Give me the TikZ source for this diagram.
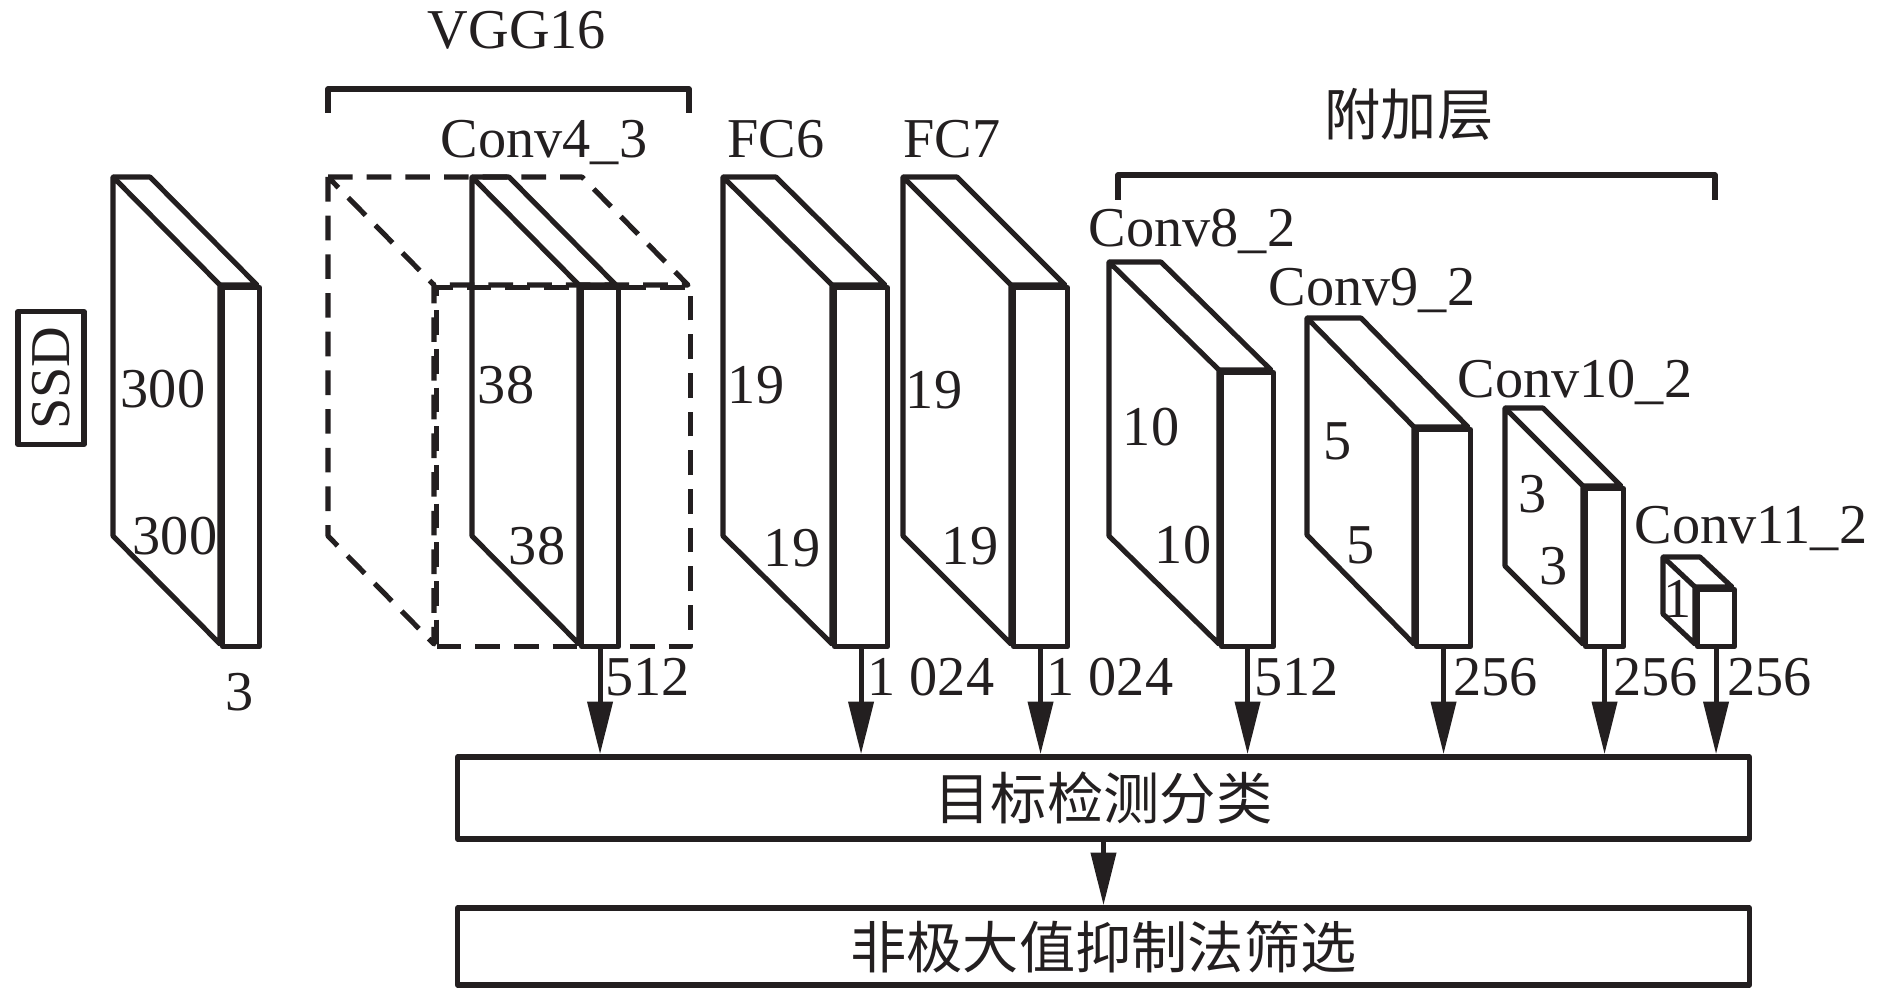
\documentclass[tikz,border=0pt]{standalone}
\usepackage{fontspec}
\setmainfont{Liberation Serif}
\newfontfamily\cjk{Noto Sans CJK SC}
\usetikzlibrary{arrows.meta}
\definecolor{ink}{RGB}{35,31,32}
\newcommand\myslab[8]{%
  \draw[#8] (#2,#3) -- (#2,{#3+#7}) -- ({#2+#5},{#3+#6+#7}) -- ({#2+#5},{#3+#6}) -- cycle;
  \draw[#8] (#2,#3) -- ({#2+#4},#3) -- ({#2+#4+#5},{#3+#6}) -- ({#2+#5},{#3+#6});
  \node[draw,#8,anchor=north west,minimum width={#4*0.01cm},minimum height={#7*0.01cm}] (#1) at ({#2+#5},{#3+#6}) {};
}
\begin{document}
\begin{tikzpicture}[x=0.01cm,y=-0.01cm, line width=1.45pt, line join=round, draw=ink,
  every node/.style={font=\fontsize{16pt}{19pt}\selectfont, inner sep=0pt, text=ink},
  num/.style={anchor=west},
  ttl/.style={anchor=base},
  arr/.style={-{Triangle[length=15pt,width=7pt]}},
  dsh/.style={dash pattern=on 7pt off 4pt},
  bigbox/.style={draw, minimum width=12.91cm, font=\cjk\fontsize{16pt}{19pt}\selectfont}]
\useasboundingbox (0,0) rectangle (1890,988);

% titles and brackets
\node (vgg) at (517,30) {VGG16};
\draw (328,113) -- (328,89) -- (689,89) -- (689,113);
\node[font=\cjk\fontsize{16pt}{19pt}\selectfont] (fj) at (1409,114) {附加层};
\draw (1118,200) -- (1118,175) -- (1715,175) -- (1715,200);

\node[draw, rotate=90, minimum width=1.33cm, minimum height=0.66cm] (ssd) at (51,378) {SSD};

% slabs
\myslab{s1}{113}{177}{37}{107}{108}{359}{}
\myslab{sd}{328}{177}{254}{106}{108}{359}{dsh}
\myslab{s2}{472}{177}{37}{107}{108}{359}{}
\myslab{s3}{723}{177}{53}{109}{108}{359}{}
\myslab{s4}{903}{177}{54}{108}{108}{359}{}
\myslab{s5}{1109}{262}{52}{110}{108}{274}{}
\myslab{s6}{1307}{318}{54}{107}{109}{217}{}
\myslab{s7}{1505}{408}{38}{78}{78}{158}{}
\myslab{s8}{1663}{557}{37}{32}{30}{57}{}

% layer names
\node[ttl] (n2) at (544,158) {Conv4\_3};
\node[ttl] (n3) at (776,158) {FC6};
\node[ttl] (n4) at (952,158) {FC7};
\node[ttl] (n5) at (1192,247) {Conv8\_2};
\node[ttl] (n6) at (1372,305) {Conv9\_2};
\node[ttl] (n7) at (1575,398) {Conv10\_2};
\node[ttl] (n8) at (1751,544) {Conv11\_2};

% sizes
\node (a1) at (163,389) {300};
\node (b1) at (175,536) {300};
\node (c1) at (240,692) {3};
\node (a2) at (506,385) {38};
\node (b2) at (537,546) {38};
\node (a3) at (756,385) {19};
\node (b3) at (792,548) {19};
\node (a4) at (934,390) {19};
\node (b4) at (970,546) {19};
\node (a5) at (1151,427) {10};
\node (b5) at (1183,545) {10};
\node (a6) at (1338,441) {5};
\node (b6) at (1361,545) {5};
\node (a7) at (1533,494) {3};
\node (b7) at (1554,566) {3};
\node (a8) at (1678,599) {1};

% boxes
\node[bigbox, minimum height=0.82cm] (det) at (1103.5,798) {目标检测分类};
\node[bigbox, minimum height=0.77cm] (nms) at (1103.5,946.5) {非极大值抑制法筛选};

% arrows
\foreach \s in {s2,s3,s4,s5,s6,s7,s8}
  \draw[arr] (\s.south) -- (\s.south |- det.north);
\draw[arr] (det.south) -- (nms.north);

% channel numbers
\node[num] (c2) at (603,677) {512};
\node[num] (c3) at (865,677) {1 024};
\node[num] (c4) at (1044,677) {1 024};
\node[num] (c5) at (1252,677) {512};
\node[num] (c6) at (1451,677) {256};
\node[num] (c7) at (1611,677) {256};
\node[num] (c8) at (1725,677) {256};
\end{tikzpicture}
\end{document}
